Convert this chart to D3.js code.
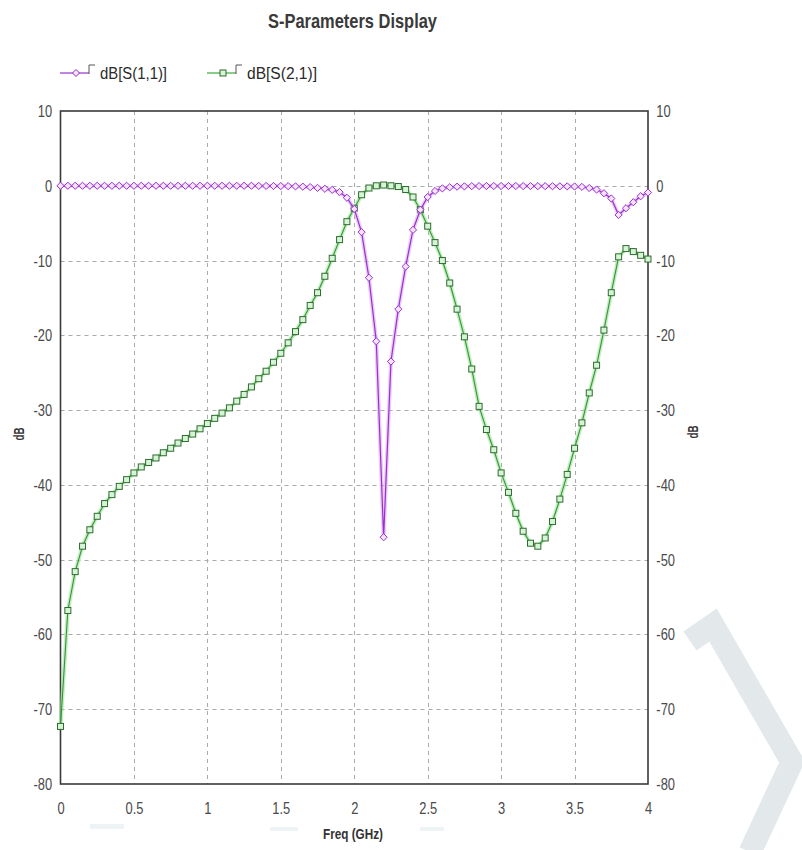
<!DOCTYPE html>
<html>
<head>
<meta charset="utf-8">
<script src="https://cdn.jsdelivr.net/npm/d3@7/dist/d3.min.js"></script>
<style>
  html, body { margin: 0; padding: 0; background: #fff; }
  svg { display: block; }
  text { font-family: "Liberation Sans", Arial, sans-serif; }
</style>
</head>
<body>
<svg id="chart" width="802" height="850"></svg>
<script>
// ---- Data ----
const freqGHz = [
  0.00,0.05,0.10,0.15,0.20,0.25,0.30,0.35,0.40,0.45,
  0.50,0.55,0.60,0.65,0.70,0.75,0.80,0.85,0.90,0.95,
  1.00,1.05,1.10,1.15,1.20,1.25,1.30,1.35,1.40,1.45,
  1.50,1.55,1.60,1.65,1.70,1.75,1.80,1.85,1.90,1.95,
  2.00,2.05,2.10,2.15,2.20,2.25,2.30,2.35,2.40,2.45,
  2.50,2.55,2.60,2.65,2.70,2.75,2.80,2.85,2.90,2.95,
  3.00,3.05,3.10,3.15,3.20,3.25,3.30,3.35,3.40,3.45,
  3.50,3.55,3.60,3.65,3.70,3.75,3.80,3.85,3.90,3.95,
  4.00
];
const s11dB = [
  0,0,0,0,0,0,0,0,0,0,
  0,0,0,0,0,0,0,0,0,0,
  0,0,0,0,0,0,0,-0.02,-0.02,-0.03,
  -0.04,-0.05,-0.08,-0.12,-0.18,-0.28,-0.4,-0.55,-0.85,-1.6,
  -3.1,-6.2,-12.3,-20.8,-47.0,-23.5,-16.5,-10.8,-5.9,-3.2,
  -1.5,-0.7,-0.35,-0.2,-0.12,-0.08,-0.05,-0.04,-0.03,-0.03,
  -0.03,-0.03,-0.03,-0.04,-0.04,-0.05,-0.05,-0.06,-0.07,-0.08,
  -0.1,-0.15,-0.3,-0.5,-1.0,-1.7,-3.9,-3.0,-2.2,-1.4,
  -0.9
];
const s21dB = [
  -72.3,-56.8,-51.6,-48.2,-46.0,-44.2,-42.5,-41.3,-40.2,-39.3,
  -38.4,-37.6,-37.0,-36.4,-35.7,-35.1,-34.4,-33.8,-33.2,-32.5,
  -31.8,-31.1,-30.4,-29.7,-28.8,-27.9,-26.9,-25.8,-24.8,-23.6,
  -22.4,-21.0,-19.5,-17.9,-16.0,-14.3,-12.1,-9.7,-7.2,-4.8,
  -3.0,-1.2,-0.3,0.0,0.1,0.0,-0.1,-0.5,-1.5,-3.2,
  -5.4,-7.6,-10.0,-13.0,-16.5,-20.2,-24.5,-29.5,-32.6,-35.3,
  -38.4,-41.0,-43.8,-46.2,-47.8,-48.2,-47.1,-44.9,-41.9,-38.6,
  -35.1,-31.7,-27.7,-24.0,-19.3,-14.3,-9.5,-8.4,-8.8,-9.3,
  -9.8
];
const xTicks = [0, 0.5, 1, 1.5, 2, 2.5, 3, 3.5, 4];
const xTickLabels = ["0", "0.5", "1", "1.5", "2", "2.5", "3", "3.5", "4"];
const yTicks = [10, 0, -10, -20, -30, -40, -50, -60, -70, -80];
const yTickLabels = ["10", "0", "-10", "-20", "-30", "-40", "-50", "-60", "-70", "-80"];
const seriesNames = ["dB[S(1,1)]", "dB[S(2,1)]"];
const titleText = "S-Parameters Display";
const xTitle = "Freq (GHz)";
const yTitle = "dB";

// ---- Layout ----
const svg = d3.select("#chart");
const L = 60.5, R = 648, T = 111, B = 784;
const x = d3.scaleLinear().domain([0, 4]).range([L, R]);
const y = d3.scaleLinear().domain([-80, 10]).range([B, T]);
const NARROW = 0.76;

svg.append("rect").attr("width", 802).attr("height", 850).attr("fill", "#fff");

// watermark (faint decoration)
const wm = svg.append("g").attr("fill", "none").attr("stroke", "#e3e8eb");
wm.append("path").attr("d", "M690,641 L713,625 L792,762 L750,852")
  .attr("stroke-width", 23).attr("stroke-linejoin", "miter");
wm.append("rect").attr("x", 90).attr("y", 824).attr("width", 34).attr("height", 5).attr("fill", "#eef3f5").attr("stroke", "none");
wm.append("rect").attr("x", 270).attr("y", 827).attr("width", 28).attr("height", 4).attr("fill", "#eef3f5").attr("stroke", "none");
wm.append("rect").attr("x", 420).attr("y", 827).attr("width", 24).attr("height", 4).attr("fill", "#eef3f5").attr("stroke", "none");

// grid
const grid = svg.append("g").attr("stroke", "#ababab").attr("stroke-width", 1).attr("stroke-dasharray", "4,4");
grid.selectAll("line.v").data(xTicks.filter(d => d > 0 && d < 4)).join("line")
  .attr("class", "v")
  .attr("x1", d => Math.round(x(d)) + 0.5).attr("x2", d => Math.round(x(d)) + 0.5)
  .attr("y1", T).attr("y2", B);
grid.selectAll("line.h").data(yTicks.filter(d => d < 10 && d > -80)).join("line")
  .attr("class", "h")
  .attr("x1", L).attr("x2", R)
  .attr("y1", d => Math.round(y(d)) + 0.5).attr("y2", d => Math.round(y(d)) + 0.5);

// frame
svg.append("rect").attr("x", L).attr("y", T).attr("width", R - L).attr("height", B - T)
  .attr("fill", "none").attr("stroke", "#3a3a3a").attr("stroke-width", 1.6);

// axes labels via d3 axes (no domain/tick lines), narrowed glyphs
const axisStyle = g => {
  g.select(".domain").remove();
  g.selectAll(".tick line").remove();
  g.selectAll("text").attr("fill", "#4a4a4a").attr("font-size", 17)
    .attr("transform", `scale(${NARROW},1)`);
};
svg.append("g").attr("transform", `translate(${L},0)`)
  .call(d3.axisLeft(y).tickValues(yTicks).tickFormat((d, i) => yTickLabels[i]).tickSize(0).tickPadding(11))
  .call(axisStyle);
svg.append("g").attr("transform", `translate(${R},0)`)
  .call(d3.axisRight(y).tickValues(yTicks).tickFormat((d, i) => yTickLabels[i]).tickSize(0).tickPadding(11))
  .call(axisStyle);
svg.append("g").attr("transform", `translate(0,${B})`)
  .call(d3.axisBottom(x).tickValues(xTicks).tickFormat((d, i) => xTickLabels[i]).tickSize(0).tickPadding(18))
  .call(axisStyle);

// axis titles
svg.append("text").attr("x", 353).attr("y", 839).attr("text-anchor", "middle")
  .attr("font-size", 15).attr("font-weight", "bold").attr("fill", "#333")
  .attr("textLength", 60).attr("lengthAdjust", "spacingAndGlyphs").text(xTitle);
svg.append("text").attr("transform", "translate(24,434) rotate(-90)").attr("text-anchor", "middle")
  .attr("font-size", 14).attr("font-weight", "bold").attr("fill", "#333")
  .attr("textLength", 13).attr("lengthAdjust", "spacingAndGlyphs").text(yTitle);
svg.append("text").attr("transform", "translate(698,432) rotate(-90)").attr("text-anchor", "middle")
  .attr("font-size", 14).attr("font-weight", "bold").attr("fill", "#333")
  .attr("textLength", 13).attr("lengthAdjust", "spacingAndGlyphs").text(yTitle);

// title
svg.append("text").attr("x", 268).attr("y", 28)
  .attr("font-size", 21).attr("font-weight", "bold").attr("fill", "#3a3a3a")
  .attr("textLength", 169).attr("lengthAdjust", "spacingAndGlyphs").text(titleText);

// series
const s11 = freqGHz.map((f, i) => [f, s11dB[i]]);
const s21 = freqGHz.map((f, i) => [f, s21dB[i]]);
const line = d3.line().x(d => x(d[0])).y(d => y(d[1]));

const plot = svg.append("g");
const c11 = "#9a2fcf", h11 = "#dcaaf2";
const c21 = "#3f8f3f", h21 = "#8fe88f", m21 = "#2f6b2f";

// S21
plot.append("path").datum(s21).attr("d", line).attr("fill", "none").attr("stroke", h21).attr("stroke-width", 4).attr("opacity", 0.6);
plot.append("path").datum(s21).attr("d", line).attr("fill", "none").attr("stroke", c21).attr("stroke-width", 1.1);
plot.selectAll("rect.m21").data(s21).join("rect").attr("class", "m21")
  .attr("x", d => x(d[0]) - 3).attr("y", d => y(d[1]) - 3).attr("width", 6).attr("height", 6)
  .attr("fill", "#d6f5d6").attr("stroke", m21).attr("stroke-width", 1);

// S11
const diamond = (cx, cy, r) => `M${cx},${cy - r}L${cx + r},${cy}L${cx},${cy + r}L${cx - r},${cy}Z`;
plot.append("path").datum(s11).attr("d", line).attr("fill", "none").attr("stroke", h11).attr("stroke-width", 4).attr("opacity", 0.6);
plot.append("path").datum(s11).attr("d", line).attr("fill", "none").attr("stroke", c11).attr("stroke-width", 1.2);
plot.selectAll("path.m11").data(s11).join("path").attr("class", "m11")
  .attr("d", d => diamond(x(d[0]), y(d[1]), 3.6))
  .attr("fill", "#f3e4fb").attr("stroke", c11).attr("stroke-width", 1);

// legend
const legend = svg.append("g");
const legItems = [
  {name: seriesNames[0], color: c11, x0: 60, mark: "d", w: 67},
  {name: seriesNames[1], color: "#3aa83a", x0: 207, mark: "s", w: 70}
];
legItems.forEach(it => {
  const ly = 73;
  legend.append("line").attr("x1", it.x0).attr("x2", it.x0 + 29).attr("y1", ly).attr("y2", ly)
    .attr("stroke", it.color).attr("stroke-width", 1.2);
  if (it.mark === "d") {
    legend.append("path").attr("d", diamond(it.x0 + 16, ly, 3.5)).attr("fill", "#f3e4fb").attr("stroke", it.color);
  } else {
    legend.append("rect").attr("x", it.x0 + 13).attr("y", ly - 3).attr("width", 6).attr("height", 6)
      .attr("fill", "#d6f5d6").attr("stroke", m21);
  }
  legend.append("path").attr("d", `M${it.x0 + 29},${ly + 1}V${ly - 8}H${it.x0 + 35}`)
    .attr("fill", "none").attr("stroke", "#555").attr("stroke-width", 1);
  legend.append("text").attr("x", it.x0 + 40).attr("y", ly + 6).attr("font-size", 16)
    .attr("fill", "#2a2a2a").attr("textLength", it.w).attr("lengthAdjust", "spacingAndGlyphs").text(it.name);
});
</script>
</body>
</html>
